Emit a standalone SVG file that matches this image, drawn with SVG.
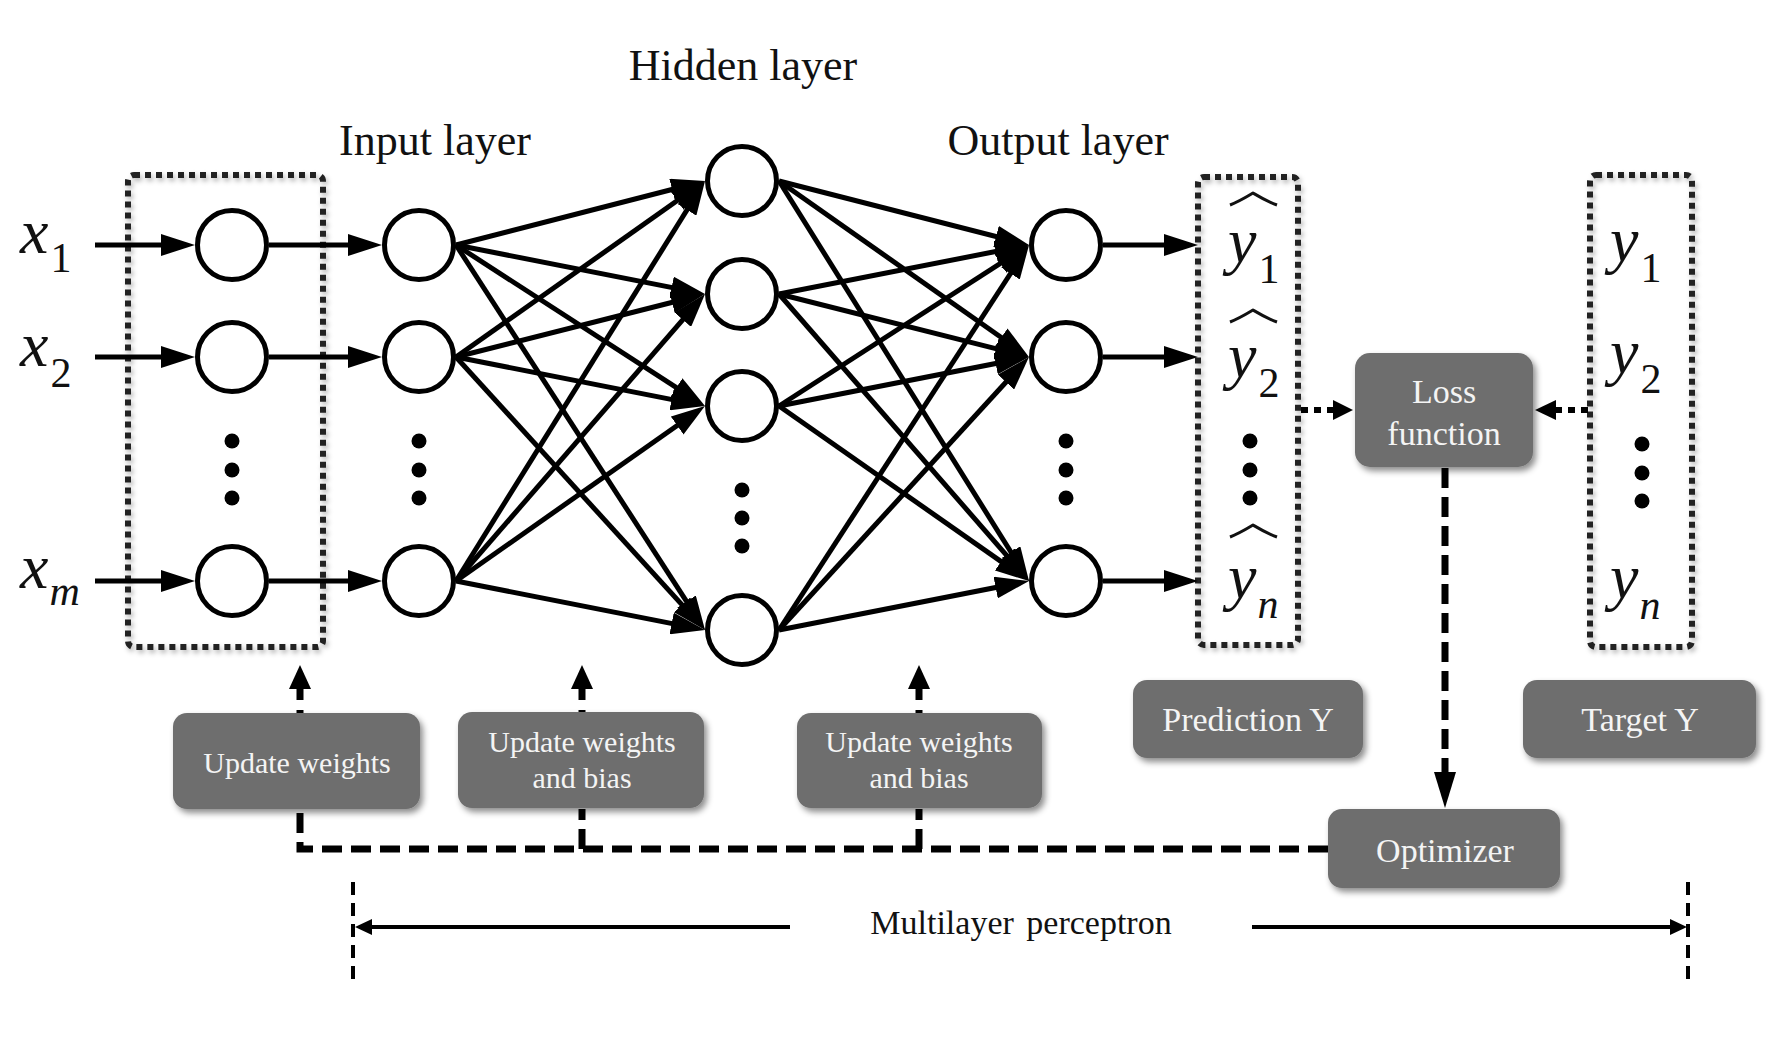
<svg xmlns="http://www.w3.org/2000/svg" width="1784" height="1056" viewBox="0 0 1784 1056">
<defs>
<style>
.nc{fill:#fff;stroke:#000;stroke-width:5}
.dot{fill:#000}
.conn{stroke:#000;stroke-width:5;fill:none;marker-end:url(#ah)}
.dbox{fill:none;stroke:#222;stroke-width:6;stroke-dasharray:6 5;filter:url(#lsh)}
.gbox{fill:#6e6e6e;filter:url(#sh)}
.bt{font-family:"Liberation Serif","Times New Roman",serif;font-size:34px;fill:#f4f4f4;text-anchor:middle}
.bt2{font-family:"Liberation Serif","Times New Roman",serif;font-size:30px;fill:#f4f4f4;text-anchor:middle}
.title{font-family:"Liberation Serif","Times New Roman",serif;font-size:44px;fill:#111;text-anchor:middle}
.var{font-family:"Liberation Serif","Times New Roman",serif;font-style:italic;font-size:64px;fill:#111}
.sub{font-style:normal;font-size:42px}
.subi{font-style:italic;font-size:42px}
.dash{stroke:#000;stroke-width:7;fill:none;stroke-dasharray:20 9}
.dotl{stroke:#000;stroke-width:6;fill:none;stroke-dasharray:7 6}
.thin{stroke:#000;stroke-width:4;fill:none}
.vd{stroke:#000;stroke-width:4;fill:none;stroke-dasharray:13 8}
.hat{stroke:#111;stroke-width:3;fill:none;stroke-linejoin:round}
</style>
<marker id="ah" markerUnits="userSpaceOnUse" markerWidth="34" markerHeight="22" refX="24" refY="11" orient="auto">
<path d="M0,0 L34,11 L0,22 Z" fill="#000"/>
</marker>
<filter id="sh" x="-10%" y="-10%" width="130%" height="140%">
<feDropShadow dx="3" dy="4" stdDeviation="3" flood-color="#000" flood-opacity="0.45"/>
</filter>
<filter id="lsh" x="-10%" y="-5%" width="130%" height="115%">
<feDropShadow dx="2" dy="3" stdDeviation="2.5" flood-color="#000" flood-opacity="0.3"/>
</filter>
</defs>
<rect width="1784" height="1056" fill="#fff"/>

<!-- titles -->
<text class="title" x="743" y="80">Hidden layer</text>
<text class="title" x="435" y="155">Input layer</text>
<text class="title" x="1058" y="155">Output layer</text>

<!-- input labels -->
<text class="var" x="20" y="253">x<tspan class="sub" dx="2" dy="19">1</tspan></text>
<text class="var" x="20" y="366">x<tspan class="sub" dx="2" dy="21">2</tspan></text>
<text class="var" x="20" y="588">x<tspan class="subi" dx="1" dy="17">m</tspan></text>

<!-- dotted boxes -->
<g id="input-box"><rect class="dbox" x="128" y="175" width="195" height="472" rx="6"/></g>
<g id="prediction-box"><rect class="dbox" x="1198" y="177" width="100" height="468" rx="6"/>
<path class="hat" d="M1230,205 C1240,201 1248,196 1253,193 C1258,196 1266,201 1277,205"/>
<path class="hat" d="M1230,322 C1240,318 1248,313 1253,310 C1258,313 1266,318 1277,322"/>
<path class="hat" d="M1230,537 C1240,533 1248,528 1253,525 C1258,528 1266,533 1277,537"/>
<text class="var" x="1228" y="262">y<tspan class="sub" dx="2" dy="21">1</tspan></text>
<text class="var" x="1228" y="377">y<tspan class="sub" dx="2" dy="20">2</tspan></text>
<text class="var" x="1228" y="598">y<tspan class="subi" dx="1" dy="20">n</tspan></text>
<circle class="dot" cx="1250" cy="441" r="7.5"/><circle class="dot" cx="1250" cy="470" r="7.5"/><circle class="dot" cx="1250" cy="498" r="7.5"/>
</g>
<g id="target-box"><rect class="dbox" x="1590" y="175" width="102" height="472" rx="6"/>
<text class="var" x="1610" y="261">y<tspan class="sub" dx="2" dy="21">1</tspan></text>
<text class="var" x="1610" y="373">y<tspan class="sub" dx="2" dy="20">2</tspan></text>
<text class="var" x="1610" y="598">y<tspan class="subi" dx="1" dy="21">n</tspan></text>
<circle class="dot" cx="1642" cy="444" r="7.5"/><circle class="dot" cx="1642" cy="473" r="7.5"/><circle class="dot" cx="1642" cy="501" r="7.5"/>
</g>

<!-- neurons -->
<g id="in1-1"><circle class="nc" cx="232" cy="245" r="34.5"/></g>
<g id="in1-2"><circle class="nc" cx="232" cy="357" r="34.5"/></g>
<g id="in1-m"><circle class="nc" cx="232" cy="581" r="34.5"/></g>
<g id="in1-dots"><circle class="dot" cx="232" cy="441" r="7.5"/><circle class="dot" cx="232" cy="470" r="7.5"/><circle class="dot" cx="232" cy="498" r="7.5"/></g>

<g id="in2-1"><circle class="nc" cx="419" cy="245" r="34.5"/></g>
<g id="in2-2"><circle class="nc" cx="419" cy="357" r="34.5"/></g>
<g id="in2-m"><circle class="nc" cx="419" cy="581" r="34.5"/></g>
<g id="in2-dots"><circle class="dot" cx="419" cy="441" r="7.5"/><circle class="dot" cx="419" cy="470" r="7.5"/><circle class="dot" cx="419" cy="498" r="7.5"/></g>

<g id="h1"><circle class="nc" cx="742" cy="181" r="34.5"/></g>
<g id="h2"><circle class="nc" cx="742" cy="294" r="34.5"/></g>
<g id="h3"><circle class="nc" cx="742" cy="406" r="34.5"/></g>
<g id="h-last"><circle class="nc" cx="742" cy="630" r="34.5"/></g>
<g id="h-dots"><circle class="dot" cx="742" cy="490" r="7.5"/><circle class="dot" cx="742" cy="518" r="7.5"/><circle class="dot" cx="742" cy="546" r="7.5"/></g>

<g id="o1"><circle class="nc" cx="1066" cy="245" r="34.5"/></g>
<g id="o2"><circle class="nc" cx="1066" cy="357" r="34.5"/></g>
<g id="o-n"><circle class="nc" cx="1066" cy="581" r="34.5"/></g>
<g id="o-dots"><circle class="dot" cx="1066" cy="441" r="7.5"/><circle class="dot" cx="1066" cy="470" r="7.5"/><circle class="dot" cx="1066" cy="498" r="7.5"/></g>

<!-- gray boxes -->
<g id="update-weights"><rect class="gbox" x="173" y="713" width="247" height="96" rx="14"/><text class="bt2" x="297" y="773">Update weights</text></g>
<g id="update-wb-1"><rect class="gbox" x="458" y="712" width="246" height="96" rx="14"/><text class="bt2" x="582" y="752">Update weights</text><text class="bt2" x="582" y="788">and bias</text></g>
<g id="update-wb-2"><rect class="gbox" x="797" y="713" width="245" height="95" rx="14"/><text class="bt2" x="919" y="752">Update weights</text><text class="bt2" x="919" y="788">and bias</text></g>
<g id="prediction-y"><rect class="gbox" x="1133" y="680" width="230" height="78" rx="14"/><text class="bt" x="1248" y="731">Prediction Y</text></g>
<g id="target-y"><rect class="gbox" x="1523" y="680" width="233" height="78" rx="14"/><text class="bt" x="1640" y="731">Target Y</text></g>
<g id="loss"><rect class="gbox" x="1355" y="353" width="178" height="114" rx="15"/><text class="bt" x="1444" y="403">Loss</text><text class="bt" x="1444" y="445">function</text></g>
<g id="optimizer"><rect class="gbox" x="1328" y="809" width="232" height="79" rx="14"/><text class="bt" x="1445" y="862">Optimizer</text></g>

<!-- connectors -->
<g id="connectors">
<line class="conn" x1="95" y1="245" x2="185" y2="245"/>
<line class="conn" x1="95" y1="357" x2="185" y2="357"/>
<line class="conn" x1="95" y1="581" x2="185" y2="581"/>
<line class="conn" x1="269" y1="245" x2="372" y2="245"/>
<line class="conn" x1="269" y1="357" x2="372" y2="357"/>
<line class="conn" x1="269" y1="581" x2="372" y2="581"/>

<line class="conn" x1="456" y1="245" x2="695.3" y2="183.5"/>
<line class="conn" x1="456" y1="245" x2="695.2" y2="292.1"/>
<line class="conn" x1="456" y1="245" x2="696.6" y2="400.6"/>
<line class="conn" x1="456" y1="245" x2="699.6" y2="621.6"/>
<line class="conn" x1="456" y1="357" x2="696.8" y2="186.8"/>
<line class="conn" x1="456" y1="357" x2="695.3" y2="296.5"/>
<line class="conn" x1="456" y1="357" x2="695.2" y2="404.1"/>
<line class="conn" x1="456" y1="357" x2="698.3" y2="622.6"/>
<line class="conn" x1="456" y1="581" x2="699.7" y2="189.5"/>
<line class="conn" x1="456" y1="581" x2="698.5" y2="301.6"/>
<line class="conn" x1="456" y1="581" x2="696.8" y2="411.8"/>
<line class="conn" x1="456" y1="581" x2="695.2" y2="628.1"/>

<line class="conn" x1="779" y1="181" x2="1019.3" y2="242.5"/>
<line class="conn" x1="779" y1="181" x2="1020.8" y2="351.2"/>
<line class="conn" x1="779" y1="181" x2="1023.7" y2="572.5"/>
<line class="conn" x1="779" y1="294" x2="1019.2" y2="246.9"/>
<line class="conn" x1="779" y1="294" x2="1019.3" y2="354.6"/>
<line class="conn" x1="779" y1="294" x2="1022.4" y2="573.5"/>
<line class="conn" x1="779" y1="406" x2="1020.6" y2="250.4"/>
<line class="conn" x1="779" y1="406" x2="1019.2" y2="358.9"/>
<line class="conn" x1="779" y1="406" x2="1020.8" y2="575.3"/>
<line class="conn" x1="779" y1="630" x2="1023.6" y2="253.4"/>
<line class="conn" x1="779" y1="630" x2="1022.2" y2="364.4"/>
<line class="conn" x1="779" y1="630" x2="1019.2" y2="582.9"/>

<line class="conn" x1="1103" y1="245" x2="1188" y2="245"/>
<line class="conn" x1="1103" y1="357" x2="1188" y2="357"/>
<line class="conn" x1="1103" y1="581" x2="1188" y2="581"/>

<!-- dotted arrows to loss -->
<line class="dotl" x1="1301" y1="410" x2="1334" y2="410"/>
<polygon points="1353,410 1333,400 1333,420" fill="#000"/>
<line class="dotl" x1="1588" y1="410" x2="1555" y2="410"/>
<polygon points="1535,410 1556,400 1556,420" fill="#000"/>

<!-- loss to optimizer -->
<path class="dash" d="M1445,468 V774"/>
<polygon points="1445,808 1434,772 1456,772" fill="#000"/>

<!-- feedback -->
<path class="dash" d="M1328,849 H300 V811"/>
<path class="dash" d="M582,849 V809"/>
<path class="dash" d="M919,849 V809"/>
<path class="dash" d="M300,688 V713" style="stroke-dasharray:12 10"/>
<path class="dash" d="M582,688 V712" style="stroke-dasharray:12 10"/>
<path class="dash" d="M919,688 V713" style="stroke-dasharray:12 10"/>
<polygon points="300,665 289,689 311,689" fill="#000"/>
<polygon points="582,665 571,689 593,689" fill="#000"/>
<polygon points="919,665 908,689 930,689" fill="#000"/>

<!-- multilayer span -->
<path class="vd" d="M353,882 V987"/>
<path class="vd" d="M1688,882 V987"/>
<line class="thin" x1="790" y1="927" x2="370" y2="927"/>
<polygon points="355,927 372,919 372,935" fill="#000"/>
<line class="thin" x1="1252" y1="927" x2="1672" y2="927"/>
<polygon points="1687,927 1670,919 1670,935" fill="#000"/>
</g>
<text x="1021" y="934" font-family="Liberation Serif, Times New Roman, serif" font-size="34" word-spacing="4" text-anchor="middle" fill="#111">Multilayer perceptron</text>
</svg>
